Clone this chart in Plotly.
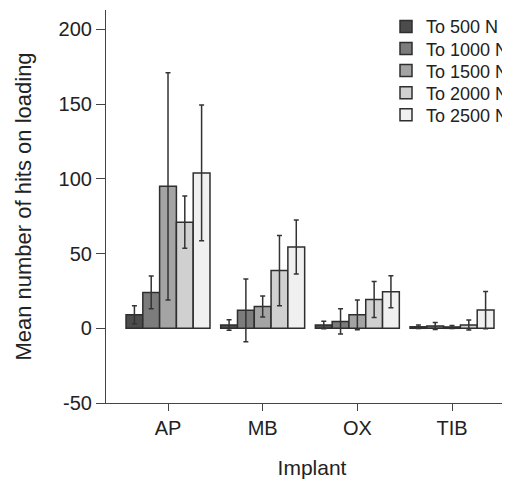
import plotly.graph_objects as go

implants = ["AP", "MB", "OX", "TIB"]
series_names = ["To 500 N", "To 1000 N", "To 1500 N", "To 2000 N", "To 2500 N"]
means = [
    [9, 2.2, 2.2, 1.0],
    [24, 12, 4.6, 1.5],
    [95, 14.6, 9, 0.9],
    [71, 38.6, 19.3, 2.2],
    [104, 54.4, 24.4, 12.2],
]
errors = [
    [6, 3.5, 2.5, 1.2],
    [11, 21, 8.5, 2.3],
    [76, 7, 10, 1.0],
    [17.5, 23.5, 12, 3.3],
    [45.5, 18, 10.7, 12.5],
]
colors = ["#4c4c4c", "#7c7c7c", "#a4a4a4", "#d0d0d0", "#f0f0f0"]
y_ticks = [-50, 0, 50, 100, 150, 200]
y_ticktext = ["-50", "0", "50", "100", "150", "200"]

FONT = "Liberation Sans, Arial, sans-serif"
W, H = 510, 489
PAGE_OFFSET = 8  # default body margin of the html page

fig = go.Figure()
legend_ids = ["legend", "legend2", "legend3", "legend4", "legend5"]
for name, m, e, c, lg in zip(series_names, means, errors, colors, legend_ids):
    fig.add_trace(go.Bar(
        name=name, x=implants, y=m, legend=lg,
        marker=dict(color=c, line=dict(color="#2e2e2e", width=1.5)),
        error_y=dict(type="data", array=e, visible=True, color="#333333", thickness=1.5, width=2.5),
    ))

# target plot-area edges in screen pixels
left_px, top_px, bottom_px = 106, 10, 403
ml = left_px - PAGE_OFFSET
mt = top_px - PAGE_OFFSET
mb = H - (bottom_px - PAGE_OFFSET)
plot_w = W - ml

row_centers = [26.7, 48.8, 70.9, 93.0, 115.1]
legend_left_screen = 386
legend_layout = {}
for lg, yc in zip(legend_ids, row_centers):
    legend_layout[lg] = dict(
        x=(legend_left_screen - left_px) / plot_w,
        y=(bottom_px - yc) / (bottom_px - top_px), xanchor="left", yanchor="middle",
        font=dict(size=18, family=FONT, color="#222222"), bgcolor="rgba(0,0,0,0)",
    )

fig.update_layout(
    width=W, height=H,
    margin=dict(l=ml, r=0, t=mt, b=mb),
    paper_bgcolor="white", plot_bgcolor="white",
    barmode="group", bargap=0.113, bargroupgap=0,
    font=dict(family=FONT, color="#222222", size=20),
    showlegend=True,
    **legend_layout,
    xaxis=dict(range=[-0.655, 3.697], showline=True, linecolor="#444444", linewidth=1.2,
               ticks="outside", ticklen=7, tickcolor="#444444", showgrid=False, automargin=False,
               tickfont=dict(size=20), title=dict(text="Implant", font=dict(size=21), standoff=22)),
    yaxis=dict(range=[-50, 213], tickvals=y_ticks, ticktext=y_ticktext, showline=True,
               linecolor="#444444", linewidth=1.2, automargin=False,
               ticks="outside", ticklen=9, tickcolor="#444444", showgrid=False, zeroline=False,
               tickfont=dict(size=20), title=dict(text="Mean number of hits on loading", font=dict(size=22), standoff=20)),
)

fig.write_html("out.html")
